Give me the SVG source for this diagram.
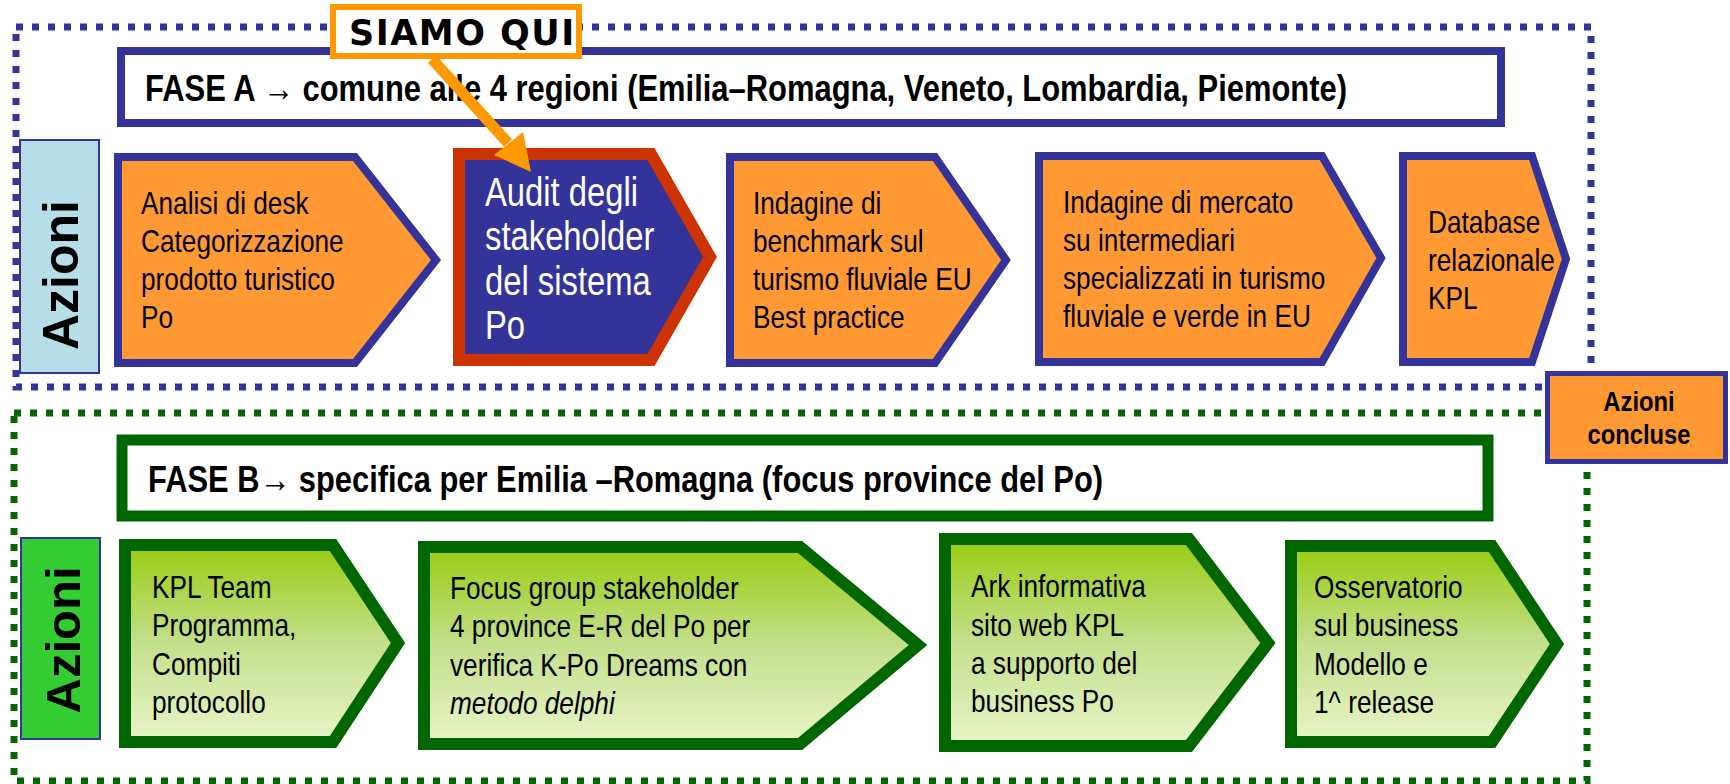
<svg xmlns="http://www.w3.org/2000/svg" width="1730" height="784" viewBox="0 0 1730 784">
<defs>
<linearGradient id="gg" x1="0" y1="0" x2="0" y2="1">
<stop offset="0" stop-color="#99CC11"/>
<stop offset="0.5" stop-color="#C4DF8C"/>
<stop offset="1" stop-color="#E9F5C8"/>
</linearGradient>
</defs>
<style>
.n{font-family:'Liberation Sans',Arial,sans-serif;}
.t{font-size:32px;fill:#000;}
.w{font-size:40px;fill:#fff;}
.ba{fill:#FF9933;stroke:#333399;stroke-width:8;}
.ga{fill:url(#gg);stroke:#006600;stroke-width:12;}
.dotb{fill:none;stroke:#333399;stroke-width:7;stroke-dasharray:7 9;}
.dotg{fill:none;stroke:#006600;stroke-width:7;stroke-dasharray:7 9;}
.az{font-family:'Liberation Sans',Arial,sans-serif;font-weight:bold;font-size:50px;fill:#000;}
.fase{font-size:37px;font-weight:bold;fill:#000;}
</style>
<rect width="1730" height="784" fill="#fff"/>

<g id="frame-fase-a">
<rect class="dotb" x="16" y="27" width="1575" height="360"/>
</g>
<g id="frame-fase-b">
<rect class="dotg" x="14" y="413" width="1573" height="368"/>
</g>

<g id="fase-a">
<rect x="121" y="51" width="1380" height="72" fill="#fff" stroke="#333399" stroke-width="8"/>
<text class="n fase" x="145" y="101" textLength="1202" lengthAdjust="spacingAndGlyphs">FASE A → comune alle 4 regioni (Emilia–Romagna, Veneto, Lombardia, Piemonte)</text>
</g>

<g id="azioni-a">
<rect x="20" y="140" width="79" height="233" fill="#B7DEE8" stroke="#333399" stroke-width="2"/>
<text class="az" transform="translate(78,275) rotate(-90)" text-anchor="middle">Azioni</text>
</g>

<g id="a1">
<polygon class="ba" points="118,157 355,157 436,260 355,363 118,363"/>
<text class="n t" transform="translate(141,0) scale(0.82,1)"><tspan x="0" y="214">Analisi di desk</tspan><tspan x="0" y="252">Categorizzazione</tspan><tspan x="0" y="290">prodotto turistico</tspan><tspan x="0" y="328">Po</tspan></text>
</g>

<g id="a2">
<polygon points="459,154 651,154 710,257 651,360 459,360" fill="#333399" stroke="#CC3300" stroke-width="12"/>
<text class="n w" transform="translate(485,0) scale(0.82,1)"><tspan x="0" y="206">Audit degli</tspan><tspan x="0" y="250">stakeholder</tspan><tspan x="0" y="295">del sistema</tspan><tspan x="0" y="339">Po</tspan></text>
</g>

<g id="a3">
<polygon class="ba" points="730,157 935,157 1006,260 935,363 730,363"/>
<text class="n t" transform="translate(753,0) scale(0.82,1)"><tspan x="0" y="214">Indagine di</tspan><tspan x="0" y="252">benchmark sul</tspan><tspan x="0" y="290">turismo fluviale EU</tspan><tspan x="0" y="328">Best practice</tspan></text>
</g>

<g id="a4">
<polygon class="ba" points="1039,156 1322,156 1381,258 1322,362 1039,362"/>
<text class="n t" transform="translate(1063,0) scale(0.82,1)"><tspan x="0" y="213">Indagine di mercato</tspan><tspan x="0" y="251">su intermediari</tspan><tspan x="0" y="289">specializzati in turismo</tspan><tspan x="0" y="327">fluviale e verde in EU</tspan></text>
</g>

<g id="a5">
<polygon class="ba" points="1403,156 1532,156 1566,259 1532,362 1403,362"/>
<text class="n t" transform="translate(1428,0) scale(0.82,1)"><tspan x="0" y="233">Database</tspan><tspan x="0" y="271">relazionale</tspan><tspan x="0" y="309">KPL</tspan></text>
</g>

<g id="azioni-concluse">
<rect x="1547.5" y="373.5" width="178" height="88" fill="#FF9933" stroke="#333399" stroke-width="5"/>
<text class="n" font-size="28" font-weight="bold" text-anchor="middle" transform="translate(1639,0) scale(0.85,1)"><tspan x="0" y="411">Azioni</tspan><tspan x="0" y="444">concluse</tspan></text>
</g>

<g id="fase-b">
<rect x="122" y="440" width="1366" height="76" fill="#fff" stroke="#006600" stroke-width="11"/>
<text class="n fase" x="148" y="492" textLength="955" lengthAdjust="spacingAndGlyphs">FASE B→ specifica per Emilia –Romagna (focus province del Po)</text>
</g>

<g id="azioni-b">
<rect x="21" y="538" width="79" height="201" fill="#33CC33" stroke="#333399" stroke-width="2"/>
<text class="az" transform="translate(80,640) rotate(-90)" text-anchor="middle" style="font-size:49px">Azioni</text>
</g>

<g id="g1">
<polygon class="ga" points="125,545 333,545 398,643 333,742 125,742"/>
<text class="n t" transform="translate(152,0) scale(0.82,1)"><tspan x="0" y="598">KPL Team</tspan><tspan x="0" y="636">Programma,</tspan><tspan x="0" y="675">Compiti</tspan><tspan x="0" y="713">protocollo</tspan></text>
</g>

<g id="g2">
<polygon class="ga" points="424,547 800,547 918,645 800,744 424,744"/>
<text class="n t" transform="translate(450,0) scale(0.82,1)"><tspan x="0" y="599">Focus group stakeholder</tspan><tspan x="0" y="637">4 province E-R del Po per</tspan><tspan x="0" y="676">verifica K-Po Dreams con</tspan><tspan x="0" y="714" font-style="italic">metodo delphi</tspan></text>
</g>

<g id="g3">
<polygon class="ga" points="945,539 1189,539 1268,643 1189,746 945,746"/>
<text class="n t" transform="translate(971,0) scale(0.82,1)"><tspan x="0" y="597">Ark informativa</tspan><tspan x="0" y="636">sito web KPL</tspan><tspan x="0" y="674">a supporto del</tspan><tspan x="0" y="712">business Po</tspan></text>
</g>

<g id="g4">
<polygon class="ga" points="1291,546 1492,546 1557,644 1492,742 1291,742"/>
<text class="n t" transform="translate(1314,0) scale(0.82,1)"><tspan x="0" y="598">Osservatorio</tspan><tspan x="0" y="636">sul business</tspan><tspan x="0" y="675">Modello e</tspan><tspan x="0" y="713">1^ release</tspan></text>
</g>

<g id="siamo-qui">
<rect x="333" y="7" width="246" height="49" fill="#fff" stroke="#FF9900" stroke-width="6"/>
<text x="349" y="45" font-family="'DejaVu Sans',sans-serif" font-weight="bold" font-size="35" letter-spacing="1.5" fill="#000">SIAMO QUI</text>
</g>

<g id="connectors">
<line x1="432" y1="59" x2="508" y2="143" stroke="#FF9900" stroke-width="11"/>
<polygon points="531,172 494,155 523,132" fill="#FF9900"/>
</g>
</svg>
